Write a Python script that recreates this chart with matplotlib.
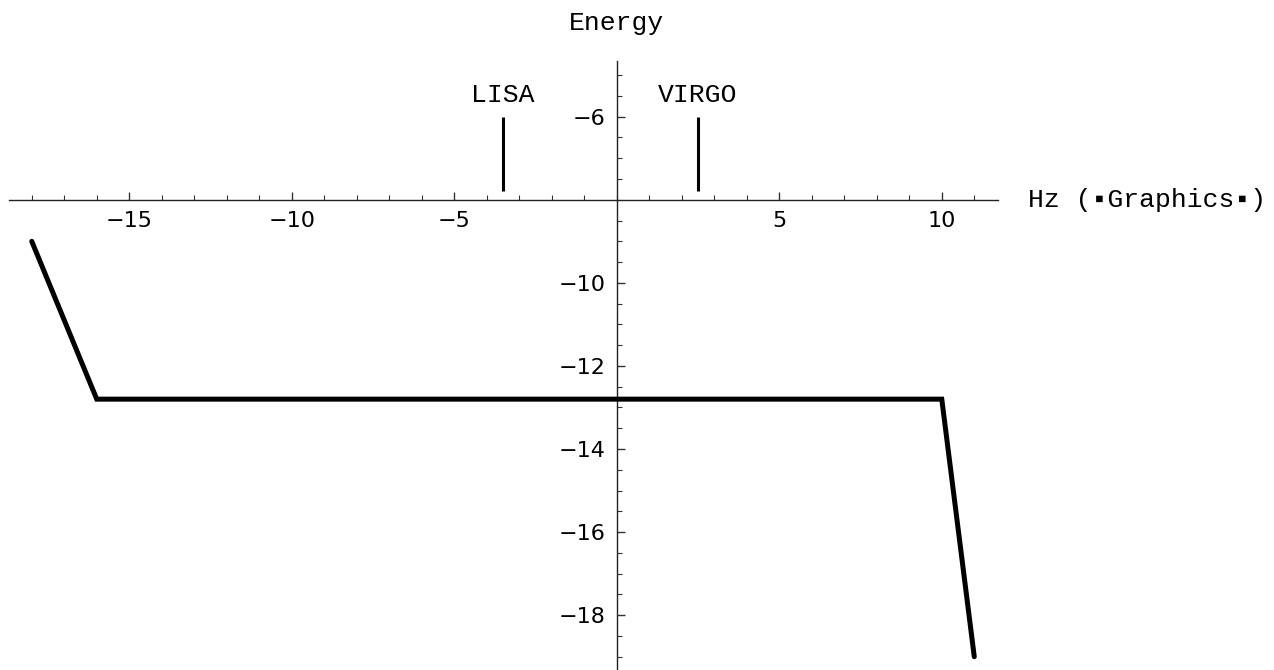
import matplotlib
matplotlib.use("Agg")
import matplotlib.pyplot as plt
from matplotlib.ticker import FixedLocator, MultipleLocator
import numpy as np

# ---- data ----
freq = [-18, -16, 10, 11]
energy = [-9, -12.8, -12.8, -19]
detectors = ["LISA", "VIRGO"]
det_freq = [-3.5, 2.5]
det_bottom = -7.8
det_top = -6.0
x_major = [-15, -10, -5, 5, 10]
y_major = [-18, -16, -14, -12, -10, -6]
x_label = "Hz (\u25aaGraphics\u25aa)"
y_label = "Energy"

W, H = 1274, 670
fig = plt.figure(figsize=(W / 100, H / 100), dpi=100)

# axes box in pixels
px_left, px_right, px_top, px_bottom = 9, 998, 61, 670
ax = fig.add_axes([px_left / W, 1 - px_bottom / H,
                   (px_right - px_left) / W, (px_bottom - px_top) / H])
ax.set_xlim(-18.70, 11.73)
ax.set_ylim(-19.32, -4.66)
ax.patch.set_alpha(0)

for s in ("top", "right"):
    ax.spines[s].set_visible(False)
ax.spines["left"].set_position(("data", 0))
ax.spines["bottom"].set_position(("data", -8))
for s in ("left", "bottom"):
    ax.spines[s].set_linewidth(1.0)
    ax.spines[s].set_color("#222222")

ax.xaxis.set_major_locator(FixedLocator(x_major))
ax.xaxis.set_minor_locator(MultipleLocator(1))
ax.yaxis.set_major_locator(FixedLocator(y_major))
ax.yaxis.set_minor_locator(MultipleLocator(0.5))

tick_font = {"family": "DejaVu Sans", "size": 16}
ax.tick_params(axis="both", which="major", direction="in", length=6,
               width=1.0, color="#333333", labelsize=16, pad=8)
ax.tick_params(axis="both", which="minor", direction="in", length=3.5,
               width=0.8, color="#333333")
ax.set_xticklabels([f"{v}".replace("-", "\u2212") for v in x_major],
                   fontdict=tick_font)
ax.set_yticklabels([f"{v}".replace("-", "\u2212") for v in y_major],
                   fontdict=tick_font)

# main curve
ax.plot(freq, energy, color="black", lw=3.6, solid_capstyle="round",
        solid_joinstyle="miter", clip_on=False, zorder=5)

# detector markers
mono = "Liberation Mono"
for name, f in zip(detectors, det_freq):
    ax.plot([f, f], [det_bottom, det_top], color="black", lw=2.2,
            solid_capstyle="butt", zorder=5)
    ax.text(f, -5.64, name, ha="center", va="baseline",
            family=mono, fontsize=19)

# axis labels
ax.text(0, -3.91, y_label, ha="center", va="baseline", family=mono,
        fontsize=19, clip_on=False)
ax.text(12.66, -8.17, x_label, ha="left", va="baseline",
        family=[mono, "DejaVu Sans"], fontsize=19, clip_on=False)

fig.savefig("out.png", dpi=100, facecolor="white")
